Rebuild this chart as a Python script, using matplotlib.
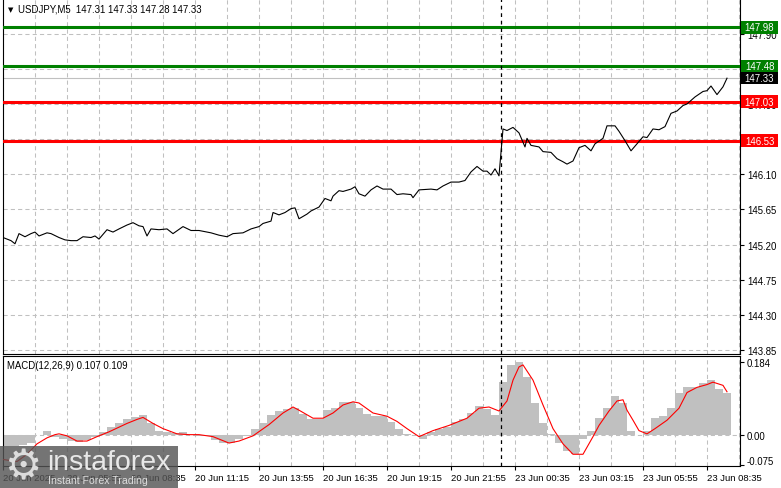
import matplotlib
matplotlib.use("Agg")
import matplotlib.pyplot as plt
import matplotlib.transforms as mtrans
from matplotlib.patches import Rectangle

# ---------------- data ----------------
symbol_title = "USDJPY,M5  147.31 147.33 147.28 147.33"
macd_title = "MACD(12,26,9) 0.107 0.109"

# close prices (bar index on M5 chart, price)
price_bar = [0, 4, 6, 8, 11, 14, 16, 18, 22, 24, 28, 31, 34, 37, 40, 44, 46, 48, 52, 55,
             58, 62, 65, 68, 70, 72, 74, 78, 82, 85, 90, 94, 98, 104, 108, 112, 115, 120, 124, 128,
             130, 134, 135, 138, 141, 144, 146, 148, 150, 152, 154, 158, 161, 164, 165, 168, 170, 174, 176, 178,
             181, 184, 187, 190, 194, 197, 200, 204, 205, 208, 214, 217, 220, 224, 228, 231, 234, 237, 240, 242,
             244, 246, 248, 250, 252, 255, 258, 261, 262, 264, 268, 270, 274, 277, 280, 282, 285, 288, 291, 294,
             296, 300, 302, 306, 308, 311, 314, 317, 320, 322, 325, 328, 331, 334, 337, 340, 342, 346, 350, 352,
             354, 357, 360, 362]
price_close = [145.29, 145.25, 145.21, 145.34, 145.30, 145.34, 145.36, 145.31, 145.35, 145.34,
               145.29, 145.26, 145.25, 145.25, 145.30, 145.29, 145.31, 145.27, 145.39, 145.36,
               145.40, 145.45, 145.48, 145.44, 145.43, 145.31, 145.40, 145.39, 145.40, 145.34,
               145.43, 145.38, 145.38, 145.35, 145.32, 145.30, 145.34, 145.35, 145.40, 145.43,
               145.47, 145.50, 145.61, 145.58, 145.61, 145.66, 145.67, 145.53, 145.56, 145.59,
               145.63, 145.68, 145.79, 145.76, 145.82, 145.89, 145.88, 145.91, 145.94, 145.85,
               145.82, 145.90, 145.95, 145.91, 145.91, 145.84, 145.85, 145.84, 145.80, 145.90,
               145.91, 145.90, 145.95, 146.00, 146.00, 146.02, 146.13, 146.20, 146.14, 146.14,
               146.09, 146.17, 146.08, 146.68, 146.66, 146.70, 146.63, 146.45, 146.56, 146.47,
               146.45, 146.39, 146.38, 146.30, 146.26, 146.23, 146.27, 146.44, 146.47, 146.40,
               146.49, 146.56, 146.72, 146.72, 146.65, 146.53, 146.40, 146.49, 146.58, 146.57,
               146.68, 146.67, 146.71, 146.88, 146.91, 146.98, 147.00, 147.09, 147.16, 147.17,
               147.23, 147.12, 147.22, 147.33]

level_values = [147.98, 147.48, 147.03, 146.53]
level_colors = ["#008000", "#008000", "#FF0000", "#FF0000"]
last_price = 147.33

price_ticks = [143.85, 144.30, 144.75, 145.20, 145.65, 146.10, 146.55, 147.00, 147.45, 147.90]

time_tick_bars = [0, 32, 64, 96, 128, 160, 192, 224, 256, 288, 320, 352]
time_tick_labels = ["20 Jun 2025", "20 Jun 05:55", "20 Jun 08:35", "20 Jun 11:15",
                    "20 Jun 13:55", "20 Jun 16:35", "20 Jun 19:15", "20 Jun 21:55",
                    "23 Jun 00:35", "23 Jun 03:15", "23 Jun 05:55", "23 Jun 08:35"]
separator_bar = 249

# MACD histogram, one value per group of 4 bars
hist_step = 4
macd_hist = [-0.027, -0.027, -0.024, -0.019, 0.002, 0.010, -0.003, -0.008, -0.014, -0.016,
             -0.011, -0.003, 0.009, 0.022, 0.030, 0.040, 0.045, 0.050, 0.030, 0.012,
             0.009, 0.007, 0.009, 0.002, -0.001, -0.001, -0.011, -0.019, -0.019, -0.008,
             -0.001, 0.017, 0.030, 0.050, 0.061, 0.066, 0.068, 0.053, 0.040, 0.040,
             0.063, 0.068, 0.084, 0.084, 0.068, 0.053, 0.048, 0.048, 0.033, 0.017,
             0.004, 0.002, -0.008, 0.009, 0.017, 0.022, 0.033, 0.040, 0.056, 0.074,
             0.066, 0.050, 0.133, 0.176, 0.184, 0.145, 0.081, 0.030, 0.004, -0.019,
             -0.039, -0.047, -0.008, 0.012, 0.043, 0.068, 0.099, 0.081, 0.012, 0.002,
             0.012, 0.043, 0.048, 0.068, 0.107, 0.120, 0.120, 0.130, 0.138, 0.115,
             0.107]

signal_bar = [0, 7, 12, 17, 22, 26, 28, 32, 37, 42, 47, 53, 62, 67, 70, 75, 80, 87, 93, 98,
              105, 113, 118, 125, 133, 140, 145, 148, 155, 160, 165, 170, 175, 178, 185, 192, 197, 202, 208, 215,
              223, 232, 238, 243, 248, 252, 255, 258, 260, 265, 270, 275, 280, 285, 290, 295, 298, 303, 307, 310,
              312, 315, 318, 322, 326, 332, 338, 342, 347, 352, 355, 360, 362]
signal_val = [-0.060, -0.065, -0.047, -0.021, -0.006, 0.002, 0.004, -0.001, -0.014, -0.014,
              -0.003, 0.009, 0.030, 0.040, 0.045, 0.030, 0.017, 0.004, 0.002, 0.002,
              -0.003, -0.019, -0.014, -0.001, 0.027, 0.056, 0.071, 0.063, 0.043, 0.043,
              0.056, 0.076, 0.084, 0.081, 0.056, 0.048, 0.035, 0.017, -0.003, 0.012,
              0.025, 0.043, 0.068, 0.071, 0.061, 0.086, 0.138, 0.171, 0.176, 0.138,
              0.076, 0.017, -0.021, -0.047, -0.047, -0.003, 0.025, 0.061, 0.086, 0.089,
              0.063, 0.038, 0.012, 0.004, 0.017, 0.038, 0.068, 0.107, 0.120, 0.127,
              0.133, 0.125, 0.109]
macd_ticks = [0.184, 0.0, -0.075]
macd_tick_labels = ["0.184", "0.00", "-0.075"]

# ---------------- figure ----------------
W, H = 781, 489
plt.rcParams['font.family'] = ['Liberation Sans', 'DejaVu Sans']
FS = 6.9
GRID = '#C0C0C0'

fig = plt.figure(figsize=(W / 100, H / 100), dpi=100)
fig.patch.set_facecolor('white')


def px_rect(x0, y0, x1, y1):
    return [x0 / W, 1 - y1 / H, (x1 - x0) / W, (y1 - y0) / H]


ax = fig.add_axes(px_rect(3, 0, 740, 354.5))
axm = fig.add_axes(px_rect(3, 356.7, 740, 467.3))

XMAX = 368.5
for a in (ax, axm):
    a.set_xlim(0, XMAX)
    a.set_facecolor('white')
    for s in a.spines.values():
        s.set_linewidth(0.8)
        s.set_color('black')
    for gb in range(0, int(XMAX) + 1, 16):
        a.axvline(gb, color=GRID, lw=0.75, ls=(0, (4, 3)), zorder=0)
    a.axvline(separator_bar, color='black', lw=0.9, ls=(0, (3, 3)), zorder=4)
    a.yaxis.tick_right()
    a.tick_params(axis='y', direction='out', length=3, width=0.8, pad=2,
                  labelsize=FS, colors='black')

ax.spines['top'].set_visible(False)

# ---- main price panel ----
ax.set_ylim(143.805, 148.344)
ax.set_yticks(price_ticks)
ax.set_yticklabels([f"{v:.2f}" for v in price_ticks])
ax.set_xticks([])
for v in price_ticks:
    ax.axhline(v, color=GRID, lw=0.75, ls=(0, (4, 3)), zorder=0)

ax.axhline(last_price, color=GRID, lw=0.8, zorder=1)
for lv, col in zip(level_values, level_colors):
    ax.axhline(lv, color=col, lw=2.2, zorder=3)

ax.plot(price_bar, price_close, color='black', lw=0.8, zorder=5)

# right side value boxes
btrans = mtrans.blended_transform_factory(fig.transFigure, ax.transData)
box_h = 12.5 / 78.1
box_items = list(zip(level_values, level_colors)) + [(last_price, 'black')]
for val, col in box_items:
    r = Rectangle((741 / W, val - box_h / 2), 37 / W, box_h, transform=btrans,
                  facecolor=col, edgecolor='none', clip_on=False, zorder=20)
    ax.add_artist(r)
    ax.text(759.5 / W, val, f"{val:.2f}", transform=btrans, ha='center', va='center',
            color='white', fontsize=FS, zorder=21, clip_on=False)

# ---- MACD panel ----
axm.set_ylim(-0.077, 0.199)
hist_x = [hist_step * j + hist_step / 2 for j in range(len(macd_hist))]
axm.bar(hist_x, macd_hist, width=hist_step, color='#C0C0C0', linewidth=0, zorder=2)
axm.plot(signal_bar, signal_val, color='#FF0000', lw=0.8, zorder=5)
axm.axhline(0, color=GRID, lw=0.75, ls=(0, (4, 3)), zorder=1)

axm.set_yticks(macd_ticks)
axm.set_yticklabels(macd_tick_labels)
lab = axm.get_yticklabels()[-1]
lab.set_transform(lab.get_transform() + mtrans.ScaledTranslation(0, 5 / 100, fig.dpi_scale_trans))

axm.set_xticks(time_tick_bars)
axm.set_xticklabels(time_tick_labels, ha='left')
axm.tick_params(axis='x', direction='out', length=3, width=0.8, pad=2,
                labelsize=6.8, colors='black')

# ---- titles ----
fig.text(8 / W, 1 - 10 / H, "\u25BC", fontsize=5, va='center', ha='left',
         family='DejaVu Sans', color='black')
fig.text(18 / W, 1 - 10 / H, symbol_title, fontsize=FS, va='center', ha='left', color='black')
fig.text(7 / W, 1 - 366 / H, macd_title, fontsize=FS, va='center', ha='left', color='black')

# ---- watermark ----
fig.patches.append(Rectangle((0, 0), 178 / W, 42 / H, transform=fig.transFigure,
                             facecolor='#555555', alpha=0.82, edgecolor='none', zorder=30))
fig.text(23 / W, 1 - 467 / H, "\u2699", fontsize=30, va='center', ha='center',
         family='DejaVu Sans', color='#dcdcdc', zorder=31)
fig.text(47 / W, 1 - 463 / H, "instaforex", fontsize=20.5, va='center', ha='left',
         color='#e8e8e8', zorder=31)
fig.text(48 / W, 1 - 481 / H, "Instant Forex Trading", fontsize=7.6, va='center', ha='left',
         color='#dddddd', zorder=31)

fig.savefig("out.png", dpi=100)
